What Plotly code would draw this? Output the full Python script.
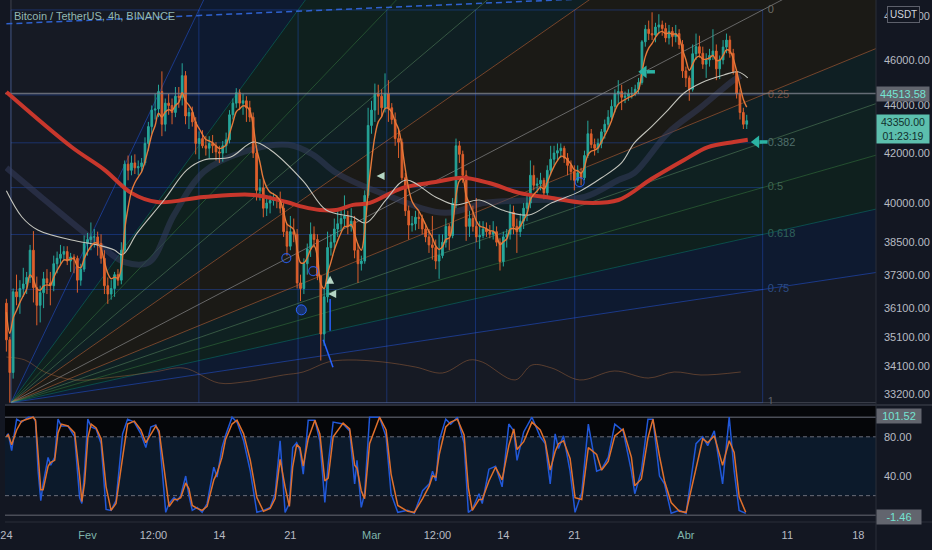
import math
from datetime import datetime, timedelta
import plotly.graph_objects as go

START = datetime(2022, 1, 24)
BAR_HOURS = 8

# ---------------- 8h OHLC candles (BTC / USDT) ----------------
opens = [
    36275, 35000, 33900, 36680, 36500, 36800, 36960, 37200, 38200, 36830, 36200, 36650,
    37150, 37000, 36900, 37700, 37900, 38050, 38150, 37800, 37950, 37900, 37100, 37500,
    38450, 38600, 38700, 38700, 38450, 37900, 36900, 36600, 36800, 37300, 37100, 38200,
    41550, 41300, 41600, 41400, 41450, 41600, 42400, 43100, 43800, 43850, 44600, 43200,
    44100, 44000, 43700, 44400, 44350, 45300, 43550, 43700, 43300, 42400, 42600, 42300,
    42200, 42400, 42300, 42050, 42000, 42300, 42550, 43600, 44100, 44550, 44100, 44200,
    43900, 43500, 42000, 40500, 40600, 39800, 40000, 40100, 40200, 40100, 39800, 38900,
    38350, 38900, 38800, 37000, 36800, 37700, 38250, 38800, 38600, 37250, 35200, 36500,
    38300, 38500, 39000, 39200, 39400, 39500, 39100, 39300, 38200, 37700, 37800, 40300,
    43150, 43800, 44500, 44400, 43900, 44500, 43900, 43400, 42600, 42450, 41000, 39700,
    39150, 39200, 39450, 39400, 39000, 38700, 38400, 38300, 37800, 38000, 38500, 39100,
    38750, 40000, 42300, 41950, 41100, 39100, 39400, 39100, 38700, 38750, 39000, 38900,
    38800, 38900, 38500, 37780, 38700, 38800, 39650, 39100, 38900, 39300, 39800, 40000,
    41100, 40700, 40750, 40900, 40400, 41300, 41750, 42000, 42100, 42200, 41800, 41500,
    41250, 40900, 41200, 41000, 41900, 42800, 42350, 42200, 42400, 42880, 43200, 43500,
    43960, 44500, 44600, 44350, 44400, 44500, 44500, 44700, 45000, 46820, 47400, 47200,
    47130, 47500, 47600, 47430, 47000, 47300, 47060, 47200, 46700, 45510, 45200, 44700,
    46280, 46600, 46300, 45810, 46000, 46200, 46400, 45600, 46000, 46580, 46900, 46300,
    45480, 44500, 43700, 43200,
]
highs = [
    36430, 35100, 36800, 37300, 37100, 37550, 37400, 38400, 38920, 37230, 36900, 37400,
    37500, 37400, 38000, 38150, 38400, 38350, 38350, 38100, 38050, 38000, 37700, 38750,
    38850, 39250, 39000, 38900, 38800, 38200, 37200, 37100, 37400, 37500, 38500, 41700,
    41900, 41900, 41950, 41700, 41800, 42650, 43300, 44000, 44500, 44900, 45490, 44300,
    44500, 44300, 44800, 44800, 45850, 45500, 43900, 43950, 43500, 42900, 42950, 42700,
    42700, 42750, 42450, 42300, 42500, 42850, 43800, 44300, 44750, 44700, 44500, 44400,
    44200, 43700, 42300, 40950, 40950, 40300, 40300, 40400, 40300, 40450, 40000, 39200,
    39500, 39400, 39000, 37300, 37900, 38450, 39250, 39100, 38800, 37300, 36800, 38900,
    38800, 39400, 39700, 39800, 40300, 39700, 39800, 39500, 38400, 38000, 40500, 43900,
    44200, 44950, 44900, 44700, 45400, 45100, 44100, 43700, 43000, 42600, 41200, 39900,
    39500, 39700, 39650, 39550, 39200, 39000, 39500, 38600, 38800, 38800, 39400, 39200,
    40200, 42600, 42500, 42100, 41300, 39700, 39900, 40200, 39300, 39300, 39250, 39150,
    39300, 39100, 38650, 38900, 39000, 39950, 39900, 39400, 39600, 40000, 40300, 41700,
    41500, 41000, 41200, 41000, 41500, 42300, 42300, 42400, 42400, 42300, 42000, 41700,
    41500, 41500, 41400, 42100, 43350, 43000, 42600, 42600, 43000, 43400, 43800, 44250,
    44700, 45100, 44900, 44600, 44700, 44800, 44900, 45200, 46900, 47600, 47800, 48190,
    47700, 48100, 47800, 47700, 47600, 47500, 47600, 47400, 46900, 45700, 45300, 46700,
    47200, 47100, 46600, 46300, 46500, 47400, 46700, 46200, 46900, 47200, 47100, 46500,
    45600, 44700, 43900, 43600,
]
lows = [
    34600, 32917, 33700, 36200, 35900, 36500, 36600, 37000, 36300, 35500, 35600, 36100,
    36600, 36200, 36700, 37350, 37700, 37800, 37650, 37400, 37350, 36650, 36900, 37400,
    38000, 38200, 38300, 38000, 37700, 36600, 36250, 36400, 36500, 36900, 36950, 38100,
    40900, 41100, 41150, 41100, 41200, 41500, 42100, 42800, 43400, 43500, 42700, 42900,
    43600, 43200, 43500, 43900, 44000, 43200, 43000, 43100, 41950, 41750, 42200, 41900,
    41800, 42000, 41700, 41600, 41650, 42000, 42400, 43400, 43900, 43800, 43600, 43300,
    43300, 41800, 40100, 40100, 39450, 39500, 39600, 39900, 39800, 39600, 38700, 38000,
    38200, 38500, 36800, 36350, 36600, 37300, 37950, 38300, 37100, 34300, 34800, 36300,
    38000, 38200, 38700, 38900, 39100, 38800, 38900, 37900, 37000, 37450, 37700, 40200,
    42800, 43300, 43600, 43500, 43700, 43300, 43200, 42300, 41800, 40900, 39500, 38600,
    38900, 38950, 39000, 38800, 38500, 38100, 37850, 37500, 37150, 37900, 38300, 38200,
    38650, 39800, 41600, 40800, 38550, 38700, 38900, 38500, 38250, 38650, 38700, 38650,
    38600, 38350, 37450, 37600, 38300, 38600, 38800, 38100, 38700, 39000, 39300, 39800,
    40500, 40400, 40500, 40150, 40200, 41100, 41500, 41700, 41800, 41600, 41100, 40900,
    40500, 40800, 40700, 40900, 41800, 42200, 41900, 42000, 42200, 42600, 43000, 43300,
    43700, 44100, 43800, 44100, 44200, 44300, 44400, 44500, 44900, 46600, 46900, 46900,
    46800, 47200, 47100, 46800, 46700, 46600, 46800, 46500, 45200, 44800, 44200, 44600,
    46000, 46100, 45600, 45200, 45700, 46000, 45100, 45150, 45800, 46300, 46100, 45350,
    44300, 43400, 43000, 43000,
]
closes = [
    35000, 33900, 36680, 36500, 36800, 36960, 37200, 38200, 36830, 36200, 36650, 37150,
    37000, 36900, 37700, 37900, 38050, 38150, 37800, 37950, 37900, 37100, 37500, 38450,
    38600, 38700, 38700, 38450, 37900, 36900, 36600, 36800, 37300, 37100, 38200, 41550,
    41300, 41600, 41400, 41450, 41600, 42400, 43100, 43800, 43850, 44600, 43200, 44100,
    44000, 43700, 44400, 44350, 45300, 43550, 43700, 43300, 42400, 42600, 42300, 42200,
    42400, 42300, 42050, 42000, 42300, 42550, 43600, 44100, 44550, 44100, 44200, 43900,
    43500, 42000, 40500, 40600, 39800, 40000, 40100, 40200, 40100, 39800, 38900, 38350,
    38900, 38800, 37000, 36800, 37700, 38250, 38800, 38600, 37250, 35200, 36500, 38300,
    38500, 39000, 39200, 39400, 39500, 39100, 39300, 38200, 37700, 37800, 40300, 43150,
    43800, 44500, 44400, 43900, 44500, 43900, 43400, 42600, 42450, 41000, 39700, 39150,
    39200, 39450, 39400, 39000, 38700, 38400, 38300, 37800, 38000, 38500, 39100, 38750,
    40000, 42300, 41950, 41100, 39100, 39400, 39100, 38700, 38750, 39000, 38900, 38800,
    38900, 38500, 37780, 38700, 38800, 39650, 39100, 38900, 39300, 39800, 40000, 41100,
    40700, 40750, 40900, 40400, 41300, 41750, 42000, 42100, 42200, 41800, 41500, 41250,
    40900, 41200, 41000, 41900, 42800, 42350, 42200, 42400, 42880, 43200, 43500, 43960,
    44500, 44600, 44350, 44400, 44500, 44500, 44700, 45000, 46820, 47400, 47200, 47130,
    47500, 47600, 47430, 47000, 47300, 47060, 47200, 46700, 45510, 45200, 44700, 46280,
    46600, 46300, 45810, 46000, 46200, 46400, 45600, 46000, 46580, 46900, 46300, 45480,
    44500, 43700, 43200, 43350,
]
# fast moving average (orange), one value per candle
fast_ma = [
    35960, 35220, 35750, 36020, 36300, 36540, 36780, 37290, 37120, 36790,
    36740, 36890, 36930, 36920, 37200, 37450, 37670, 37840, 37830, 37870,
    37880, 37600, 37560, 37880, 38140, 38340, 38470, 38460, 38260, 37770,
    37350, 37150, 37210, 37170, 37540, 38980, 39820, 40460, 40800, 41030,
    41240, 41660, 42180, 42760, 43150, 43670, 43500, 43720, 43820, 43780,
    44000, 44130, 44550, 44190, 44010, 43760, 43270, 43030, 42770, 42560,
    42500, 42430, 42290, 42190, 42230, 42340, 42800, 43270, 43730, 43860,
    43980, 43950, 43790, 43150, 42190, 41620, 40970, 40620, 40430, 40350,
    40260, 40090, 39660, 39190, 39090, 38980, 38270, 37740, 37730, 37920,
    38230, 38370, 37960, 36970, 36800, 37340, 37760, 38210, 38560, 38860,
    39090, 39100, 39170, 38820, 38420, 38200, 38950, 40460, 41670, 42690,
    43300, 43520, 43870, 43880, 43710, 43310, 43000, 42280, 41350, 40560,
    40070, 39850, 39690, 39440, 39170, 38900, 38680, 38360, 38230, 38330,
    38610, 38660, 39140, 40280, 40880, 40960, 40290, 39970, 39660, 39310,
    39110, 39070, 39010, 38930, 38920, 38770, 38410, 38520, 38620, 38990,
    39030, 38980, 39100, 39350, 39580, 40130, 40340, 40480, 40630, 40550,
    40820, 41160, 41460, 41690, 41870, 41850, 41720, 41550, 41320, 41280,
    41180, 41440, 41930, 42080, 42120, 42220, 42460, 42730, 43010, 43350,
    43760, 44060, 44170, 44250, 44340, 44400, 44510, 44680, 45450, 46150,
    46530, 46750, 47020, 47230, 47300, 47190, 47230, 47170, 47180, 47010,
    46470, 46010, 45540, 45810, 46090, 46170, 46040, 46030, 46090, 46200,
    45980, 45990, 46200, 46450, 46400, 46070, 45500, 44860, 44260, 43930,
]

# slower moving averages (days since 24 Jan, price)
white_days = [0.0, 1.53, 3.1, 6.43, 8.98, 10.65, 11.43, 12.9, 15.55, 17.8, 19.47, 22.12, 24.37,
              26.04, 29.27, 31.53, 34.18, 35.45, 37.41, 39.37, 42.31, 44.27, 46.62, 48.88, 51.53,
              53.78, 56.43, 58.69, 60.65, 61.92, 63.59, 65.25, 66.82, 68.49, 70.74, 72.12, 73.1]
white_vals = [40480, 39460, 38960, 38580, 38400, 38210, 38030, 38850, 40120, 41320, 41720, 41840, 42460,
              42130, 40870, 39730, 39460, 39230, 40120, 40910, 40240, 39930, 40120, 39730, 39540,
              40010, 40440, 41000, 41600, 42420, 43090, 43810, 44540, 44980, 45330, 45470, 45200]
red_days = [0.0, 6.43, 9.67, 12.31, 14.86, 19.47, 24.37, 27.61, 29.27, 30.94, 32.51, 34.18, 35.84,
            39.08, 42.31, 44.96, 47.61, 50.55, 53.78, 57.02, 60.35, 63.59, 66.82, 69.18, 71.73, 73.1]
red_vals = [44580, 42250, 41320, 40400, 40040, 40240, 40320, 40040, 39850, 39730, 39730, 39930, 40010,
            40600, 40830, 41000, 40790, 40400, 40200, 40010, 40120, 40950, 41720, 42250, 42460, 42550]
dark_days = [0.0, 3.78, 8.98, 11.63, 14.08, 16.53, 19.47, 23.39, 27.8, 30.25, 32.51, 37.41, 43.29,
             47.22, 52.12, 57.02, 60.35, 61.92, 65.25, 68.49, 71.73, 72.41]
dark_vals = [41400, 40120, 38470, 37760, 37760, 39540, 41240, 42050, 42340, 41930, 41200, 40320, 39620,
             40010, 40120, 40240, 40910, 41200, 42840, 43930, 45110, 45290]
# volume moving average (thousand BTC)
vol_days = [0.0, 1.82, 3.78, 6.73, 10.65, 14.57, 17.51, 20.94, 23.39, 27.31, 29.27, 31.73, 33.69,
            37.12, 40.35, 43.0, 45.65, 46.92, 50.16, 51.82, 53.78, 56.53, 59.96, 63.29, 65.84, 68.49, 72.41]
vol_vals = [4.65, 4.36, 3.17, 2.38, 2.67, 3.17, 3.56, 2.08, 2.18, 2.87, 3.17, 4.16, 4.36,
            4.16, 3.66, 3.07, 4.36, 4.16, 2.38, 3.86, 3.56, 2.38, 3.27, 2.57, 3.17, 2.87, 3.17]

# ---------------- Stochastic ----------------
stoch_days = [
    0.0, 0.19, 0.52, 1.01, 1.5, 2.15, 2.64, 2.87, 3.13, 3.39,
    3.62, 4.11, 4.37, 4.76, 5.09, 5.42, 6.07, 6.73, 7.22, 7.44,
    7.71, 8.03, 8.36, 8.85, 9.34, 9.83, 10.32, 10.81, 11.46, 11.95,
    12.61, 13.26, 13.75, 14.24, 14.73, 15.06, 15.71, 16.04, 16.53, 16.85,
    17.19, 17.68, 18.0, 18.33, 18.81, 19.3, 19.79, 20.45, 20.77, 21.26,
    21.6, 22.25, 22.74, 23.39, 24.05, 24.7, 25.35, 26.01, 26.5, 26.99,
    27.48, 27.9, 28.23, 28.62, 28.95, 29.27, 29.76, 30.42, 30.91, 31.4,
    31.73, 32.22, 33.2, 33.85, 34.34, 34.57, 34.99, 35.32, 35.81, 36.79,
    37.44, 37.93, 38.59, 39.57, 40.22, 41.04, 41.7, 42.02, 42.35, 42.68,
    43.32, 43.81, 44.47, 45.13, 45.55, 45.94, 46.6, 46.92, 47.58, 48.23,
    48.88, 49.54, 50.03, 50.35, 51.01, 51.82, 52.64, 53.13, 53.62, 54.11,
    54.44, 54.93, 55.58, 56.07, 56.73, 57.38, 58.2, 58.69, 59.34, 59.99,
    60.81, 61.63, 61.96, 62.61, 63.26, 63.75, 64.4, 64.89, 65.55, 66.36,
    67.02, 68.0, 68.66, 69.15, 69.8, 70.62, 71.27, 71.76, 72.25, 72.9,
]
stoch_k = [
    81, 83, 66, 98, 95, 100, 100, 96, 45, 15,
    32, 59, 51, 59, 98, 91, 91, 80, 18, 12,
    45, 98, 90, 88, 73, 6, 5, 15, 83, 98,
    95, 83, 69, 90, 92, 83, 3, 12, 18, 15,
    20, 40, 20, 5, 8, 3, 12, 49, 39, 69,
    81, 100, 95, 76, 45, 3, 5, 8, 22, 76,
    3, 12, 69, 74, 66, 42, 97, 97, 76, 13,
    52, 95, 93, 86, 32, 56, 8, 22, 100, 100,
    80, 22, 3, 5, 2, 25, 32, 45, 35, 76,
    98, 93, 100, 73, 3, 6, 22, 12, 47, 50,
    29, 93, 86, 56, 85, 100, 80, 73, 32, 83,
    68, 81, 45, 3, 23, 93, 45, 47, 59, 93,
    86, 45, 22, 45, 98, 98, 40, 32, 2, 5,
    2, 73, 80, 71, 86, 32, 100, 45, 5, 2,
]
stoch_d = [
    80, 82, 72, 87, 96, 98, 100, 97, 63, 26,
    26, 50, 54, 56, 84, 93, 91, 84, 40, 14,
    33, 79, 93, 89, 78, 29, 5, 12, 59, 93,
    96, 87, 74, 83, 91, 86, 31, 9, 16, 16,
    18, 33, 27, 10, 7, 5, 9, 36, 43, 59,
    77, 93, 97, 83, 56, 18, 4, 7, 17, 57,
    29, 9, 49, 72, 69, 50, 78, 97, 83, 35,
    38, 80, 94, 88, 51, 48, 25, 17, 73, 100,
    87, 42, 10, 4, 3, 17, 30, 40, 39, 62,
    90, 95, 98, 82, 28, 5, 16, 16, 35, 49,
    36, 71, 88, 67, 75, 95, 87, 75, 46, 65,
    73, 76, 58, 18, 16, 69, 62, 46, 55, 81,
    88, 59, 30, 37, 79, 98, 60, 35, 13, 4,
    3, 48, 78, 74, 81, 51, 76, 64, 19, 3,
]
stoch_hi_label = 101.52
stoch_lo_label = -1.46

# ---------------- drawings ----------------
hline_price = 44513.58
top_trend_days = [0.0, 60.0]
top_trend_prices = [47650, 48890]
fan_origin_day = 0.45
fan_end_day = 74.57
fan_levels = ["0", "0.25", "0.382", "0.5", "0.618", "0.75", "1"]
fan_level_prices = [48300, 44454, 42424, 40609, 38793, 36761, 32917]
fan_level_days = [74.57, 56.04, 46.26, 37.51, 28.76, 18.98, 0.45]

cyan_sig_days = [62.85, 73.95]
cyan_sig_prices = [45470, 42460]
pale_sig_days = [36.5, 31.92, 31.73]
pale_sig_prices = [41070, 37260, 36600]
pale_sig_symbols = ["arrow-left", "arrow-up", "arrow-left"]
blue_ring_days = [27.6, 56.53, 30.25]
blue_ring_prices = [37910, 40830, 37430]
blue_dot_days = [29.08]
blue_dot_prices = [36040]
blue_seg_days = [31.24, 32.2, None, 31.92, 31.92]
blue_seg_prices = [35000, 34075, None, 36420, 35310]

price_ticks = [48000, 46000, 44000, 42000, 40000, 38500, 37300, 36100, 35100, 34100, 33200]
time_tick_dates = ["2022-01-24", "2022-02-01", "2022-02-07 12:00", "2022-02-14", "2022-02-21",
                   "2022-03-01", "2022-03-07 12:00", "2022-03-14", "2022-03-21", "2022-04-01",
                   "2022-04-11", "2022-04-18"]
time_tick_labels = ["24", "Fev", "12:00", "14", "21", "Mar", "12:00", "14", "21", "Abr", "11", "18"]
month_labels = {"Fev", "Mar", "Abr"}

# ---------------- styling ----------------
BG = "#131722"
UP = "#26a69a"
DOWN = "#dd5f2c"
FONT = "Liberation Sans, Arial, sans-serif"
LEVEL_LINE = ["rgba(200,200,200,0.45)", "rgba(235,120,60,0.45)", "rgba(129,199,132,0.35)",
              "rgba(76,175,80,0.35)", "rgba(8,153,129,0.4)", "rgba(41,98,255,0.45)",
              "rgba(120,123,134,0.45)"]
LEVEL_FILL = [None, "#1b1a16", "#0f1f23", "#0f2121", "#0f201e", "#0e1a30", "#161a24"]
LEVEL_TEXT = ["#6c6b64", "#7a4c3a", "#4f6f6c", "#3f6552", "#2f625b", "#2c4c84", "#5d606b"]


def day(d):
    return START + timedelta(days=d)


bar_times = [START + timedelta(hours=BAR_HOURS * i) for i in range(len(closes))]
X_RANGE = [day(-0.137), day(85.745)]
LOG_RANGE = [4.51686, 4.68817]

fig = go.Figure()
noh = dict(hoverinfo="skip", showlegend=False)

# ---- background layer (x, y): fan wedges, grid, rays ----
p0 = fan_level_prices[-1]
rays = [(fan_level_days[i], fan_level_prices[0], i) for i in range(6, 0, -1)]
rays.append((fan_end_day, fan_level_prices[0], 0))
rays += [(fan_end_day, fan_level_prices[i], i) for i in range(1, 7)]


def far_point(t1, p1, k=3.0):
    t = fan_origin_day + k * (t1 - fan_origin_day)
    lp = math.log(p0) + k * (math.log(p1) - math.log(p0))
    return t, math.exp(lp)


far = [far_point(t, p) for t, p, _ in rays]
for j in range(len(rays) - 1):
    lvl = max(rays[j][2], rays[j + 1][2])
    xs = [day(fan_origin_day), day(far[j][0]), day(far[j + 1][0]), day(fan_origin_day)]
    ys = [p0, far[j][1], far[j + 1][1], p0]
    fig.add_trace(go.Scatter(x=xs, y=ys, mode="lines", fill="toself", fillcolor=LEVEL_FILL[lvl],
                             line=dict(width=0), **noh))

gx, gy = [], []
for p in fan_level_prices:
    gx += [day(fan_origin_day), day(fan_end_day), None]
    gy += [p, p, None]
for t in fan_level_days:
    gx += [day(t), day(t), None]
    gy += [fan_level_prices[-1], fan_level_prices[0], None]
fig.add_trace(go.Scatter(x=gx, y=gy, mode="lines", line=dict(color="rgba(41,98,255,0.32)", width=1), **noh))

for j, (t, p, lvl) in enumerate(rays):
    fig.add_trace(go.Scatter(x=[day(fan_origin_day), day(far[j][0])], y=[p0, far[j][1]], mode="lines",
                             line=dict(color=LEVEL_LINE[lvl], width=1), **noh))

fig.add_trace(go.Scatter(x=[day(fan_end_day + 0.5)] * 7, y=fan_level_prices, mode="text", text=fan_levels,
                         textposition="middle right",
                         textfont=dict(family=FONT, size=11, color=LEVEL_TEXT), **noh))

fig.add_trace(go.Scatter(x=[day(d) for d in top_trend_days], y=top_trend_prices, mode="lines",
                         line=dict(color="#2f62d0", width=1.5, dash="6px,4px"), **noh))

fig.add_trace(go.Scatter(x=[day(d) for d in dark_days], y=dark_vals, mode="lines",
                         line=dict(color="rgba(55,64,98,0.5)", width=6, shape="spline"), **noh))

# ---- volume MA (own hidden axis y3) ----
fig.add_trace(go.Scatter(x=[day(d) for d in vol_days], y=vol_vals, mode="lines", yaxis="y3",
                         line=dict(color="rgba(170,105,60,0.45)", width=1, shape="spline"), **noh))

# ---- foreground layer (x, y4): candles and moving averages ----
fig.add_trace(go.Scatter(x=[day(-2), day(95)], y=[hline_price, hline_price], mode="lines", yaxis="y4",
                         line=dict(color="rgba(130,133,144,0.75)", width=1.5), **noh))
fig.add_trace(go.Candlestick(
    x=bar_times, open=opens, high=highs, low=lows, close=closes, yaxis="y4",
    increasing=dict(line=dict(color=UP, width=1), fillcolor=UP),
    decreasing=dict(line=dict(color=DOWN, width=1), fillcolor=DOWN),
    whiskerwidth=0, hoverinfo="skip", showlegend=False))
fig.add_trace(go.Scatter(x=[day(d) for d in red_days], y=red_vals, mode="lines", yaxis="y4",
                         line=dict(color="#c8372c", width=4, shape="spline"), **noh))
fig.add_trace(go.Scatter(x=[day(d) for d in white_days], y=white_vals, mode="lines", yaxis="y4",
                         line=dict(color="#c4c5bd", width=1.1, shape="spline"), **noh))
fig.add_trace(go.Scatter(x=bar_times, y=fast_ma, mode="lines", yaxis="y4",
                         line=dict(color="#e5793a", width=1.4, shape="spline"), **noh))

fig.add_trace(go.Scatter(x=[day(d) if d is not None else None for d in blue_seg_days], y=blue_seg_prices,
                         mode="lines", yaxis="y4", line=dict(color="#2962ff", width=1.5), **noh))
fig.add_trace(go.Scatter(x=[day(d) for d in blue_ring_days], y=blue_ring_prices, mode="markers", yaxis="y4",
                         marker=dict(symbol="circle-open", size=9, color="rgba(41,98,255,0.8)",
                                     line=dict(width=1.2)), **noh))
fig.add_trace(go.Scatter(x=[day(d) for d in blue_dot_days], y=blue_dot_prices, mode="markers", yaxis="y4",
                         marker=dict(symbol="circle", size=10, color="rgba(30,60,140,0.7)",
                                     line=dict(width=1, color="#2962ff")), **noh))
fig.add_trace(go.Scatter(x=[day(d) for d in pale_sig_days], y=pale_sig_prices, mode="markers", yaxis="y4",
                         marker=dict(symbol=pale_sig_symbols, size=8, color="#b5d6c4"), **noh))
# cyan left-pointing arrows: shaft + head
shaft_x, shaft_y = [], []
for d, p in zip(cyan_sig_days, cyan_sig_prices):
    shaft_x += [day(d + 0.3), day(d + 1.1), None]
    shaft_y += [p, p, None]
fig.add_trace(go.Scatter(x=shaft_x, y=shaft_y, mode="lines", yaxis="y4",
                         line=dict(color="#2bb3a3", width=3.5), **noh))
fig.add_trace(go.Scatter(x=[day(d) for d in cyan_sig_days], y=cyan_sig_prices, mode="markers", yaxis="y4",
                         marker=dict(symbol="triangle-left", size=11, color="#2bb3a3"), **noh))

# ---- stochastic (x2, y2) ----
fig.add_trace(go.Scatter(x=[day(d) for d in stoch_days], y=stoch_k, mode="lines", xaxis="x2", yaxis="y2",
                         line=dict(color="#2158d8", width=1.5), **noh))
fig.add_trace(go.Scatter(x=[day(d) for d in stoch_days], y=stoch_d, mode="lines", xaxis="x2", yaxis="y2",
                         line=dict(color="#e0702c", width=1.5), **noh))

PRICE_DOM = [0.22605, 1.0]
STOCH_DOM = [0.0, 0.2222]
STOCH_RANGE = [-6.86, 111.4]
tickfont = dict(family=FONT, size=11, color="#b8bbc3")

ticktext_time = [("<span style='color:#7fb5ac'>%s</span>" % t) if t in month_labels else t
                 for t in time_tick_labels]

shapes = [
    dict(type="rect", xref="x2 domain", yref="y2", x0=0, x1=1, y0=80, y1=STOCH_RANGE[1],
         fillcolor="#050609", line=dict(width=0), layer="below"),
    dict(type="rect", xref="x2 domain", yref="y2", x0=0, x1=1, y0=20, y1=80,
         fillcolor="#0c1a2b", line=dict(width=0), layer="below"),
    dict(type="line", xref="x2 domain", yref="y2", x0=0, x1=1, y0=100, y1=100,
         line=dict(color="#4a4d57", width=1.5), layer="below"),
    dict(type="line", xref="x2 domain", yref="y2", x0=0, x1=1, y0=0, y1=0,
         line=dict(color="#4a4d57", width=1.5), layer="below"),
    dict(type="line", xref="x2 domain", yref="y2", x0=0, x1=1, y0=80, y1=80,
         line=dict(color="#6a6d78", width=1, dash="4px,3px"), layer="below"),
    dict(type="line", xref="x2 domain", yref="y2", x0=0, x1=1, y0=20, y1=20,
         line=dict(color="#6a6d78", width=1, dash="4px,3px"), layer="below"),
    dict(type="line", xref="paper", yref="paper", x0=0, x1=1.07, y0=0.2239, y1=0.2239,
         line=dict(color="#2a2e39", width=2)),
    dict(type="line", xref="paper", yref="paper", x0=0, x1=1.07, y0=0.0, y1=0.0,
         line=dict(color="#2a2e39", width=1)),
    dict(type="line", xref="paper", yref="paper", x0=1.0, x1=1.0, y0=-0.06, y1=1.0,
         line=dict(color="#2a2e39", width=1)),
]

annotations = [
    dict(xref="paper", yref="paper", x=0.008, y=0.969, xanchor="left", yanchor="middle",
         text="Bitcoin / TetherUS, 4h, BINANCE", showarrow=False,
         font=dict(family=FONT, size=11, color="#93b8b2")),
    dict(xref="paper", yref="paper", x=1.032, y=0.972, xanchor="center", yanchor="middle",
         text="USDT", showarrow=False, bgcolor=BG, bordercolor="#5d606b", borderwidth=1, borderpad=2,
         font=dict(family=FONT, size=10, color="#d1d4dc")),
    dict(xref="paper", yref="y", x=1.0, y=math.log10(hline_price), xanchor="left", yanchor="middle",
         text="%.2f" % hline_price, showarrow=False, bgcolor="#62656e", borderpad=1, width=50,
         font=dict(family=FONT, size=11, color="#74e3d2")),
    dict(xref="paper", yref="y", x=1.0, y=math.log10(closes[-1]), xanchor="left", yanchor="top",
         yshift=7, text="%.2f<br>01:23:19" % closes[-1], showarrow=False, bgcolor="#5cbfad",
         borderpad=1, width=50, font=dict(family=FONT, size=10.5, color="#12302c")),
    dict(xref="paper", yref="y2", x=1.0, y=stoch_hi_label, xanchor="left", yanchor="middle",
         text="%.2f" % stoch_hi_label, showarrow=False, bgcolor="#62656e", borderpad=1, width=42,
         font=dict(family=FONT, size=11, color="#74e3d2")),
    dict(xref="paper", yref="y2", x=1.0, y=stoch_lo_label, xanchor="left", yanchor="middle",
         text="%.2f" % stoch_lo_label, showarrow=False, bgcolor="#62656e", borderpad=1, width=42,
         font=dict(family=FONT, size=11, color="#74e3d2")),
]

fig.update_layout(
    width=932, height=550, margin=dict(l=0, r=56, t=0, b=28),
    paper_bgcolor=BG, plot_bgcolor=BG, showlegend=False, hovermode=False,
    xaxis=dict(domain=[0, 1], anchor="y", range=X_RANGE, type="date", showticklabels=False,
               showgrid=False, zeroline=False, rangeslider=dict(visible=False), showline=False),
    xaxis2=dict(domain=[0, 1], anchor="y2", range=X_RANGE, type="date", matches="x", showgrid=False,
                zeroline=False, tickvals=time_tick_dates, ticktext=ticktext_time, ticks="",
                tickfont=tickfont, ticklabelstandoff=5, ticklabeloverflow="allow"),
    yaxis=dict(domain=PRICE_DOM, type="log", range=LOG_RANGE, side="right", showgrid=False,
               zeroline=False, tickvals=price_ticks, ticktext=["%.2f" % v for v in price_ticks],
               ticks="", tickfont=tickfont, ticklabelstandoff=7),
    yaxis2=dict(domain=STOCH_DOM, range=STOCH_RANGE, side="right", showgrid=False, zeroline=False,
                tickvals=[80, 40], ticktext=["80.00", "40.00"], ticks="", tickfont=tickfont,
                ticklabelstandoff=7),
    yaxis3=dict(overlaying="y", range=[0, 40], visible=False, anchor="x"),
    yaxis4=dict(overlaying="y", type="log", range=LOG_RANGE, visible=False, anchor="x"),
    shapes=shapes, annotations=annotations,
)

fig.write_html("out.html", config={"displayModeBar": False, "staticPlot": True},
               post_script="document.body.style.margin='0px';document.body.style.overflow='hidden';")
